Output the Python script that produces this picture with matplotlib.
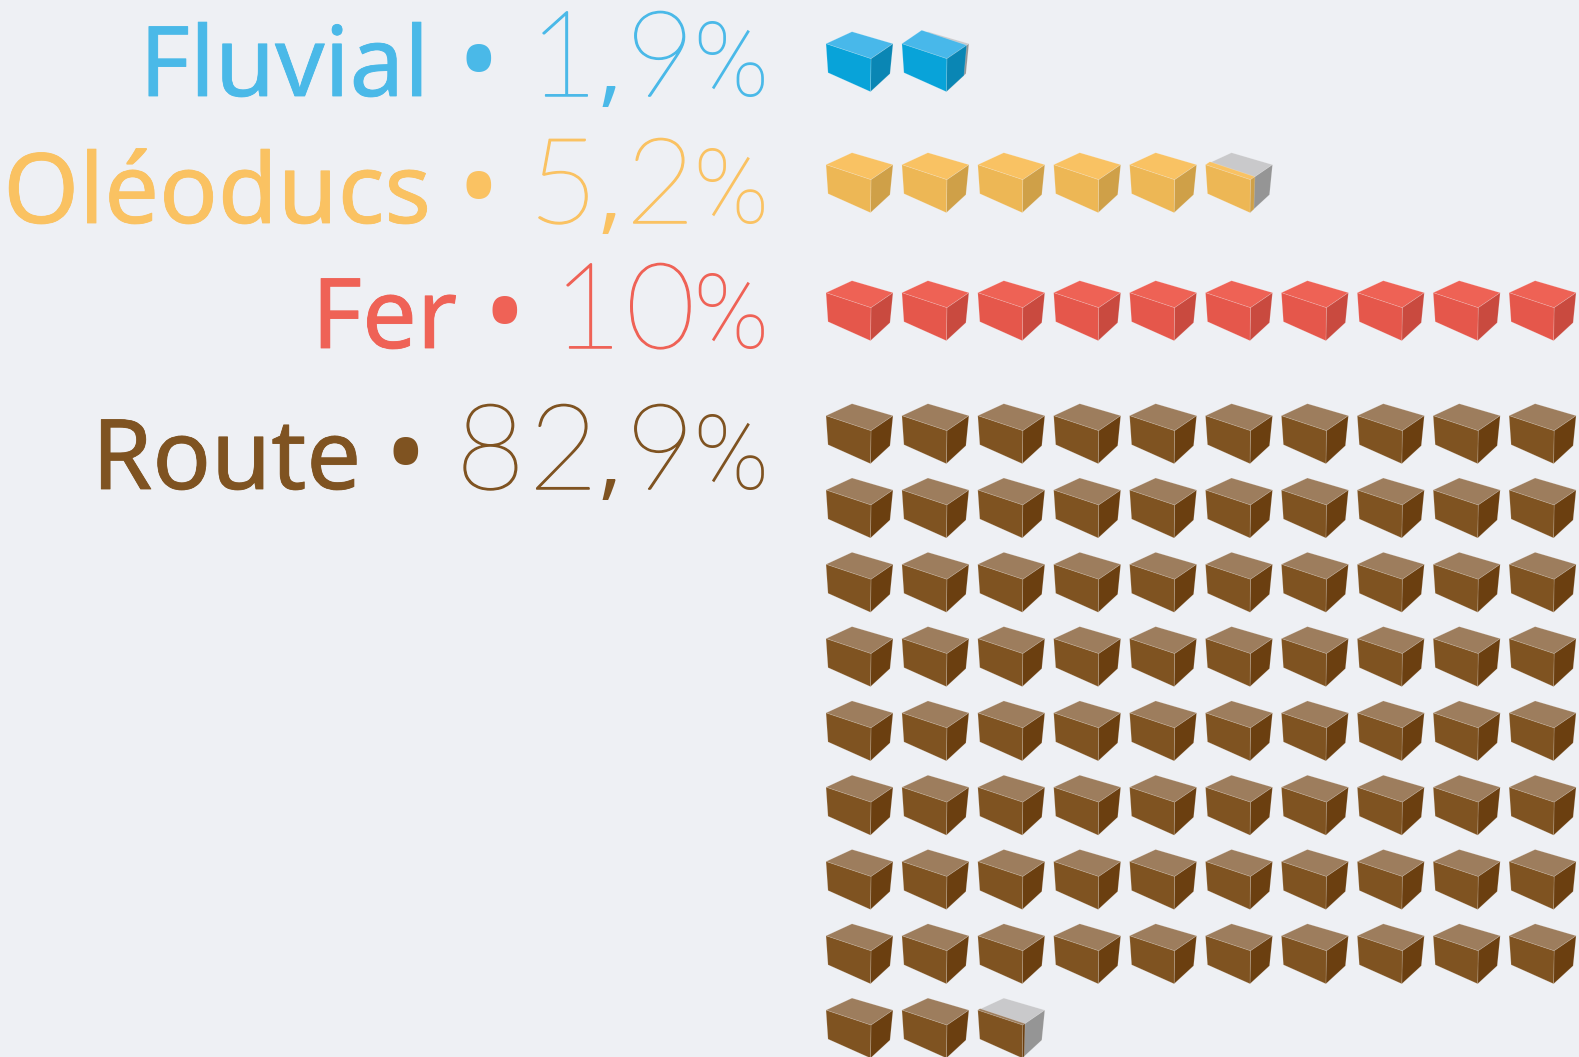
import matplotlib
matplotlib.use("Agg")
import matplotlib.pyplot as plt
import matplotlib.patheffects as pe
from matplotlib.collections import PolyCollection
import numpy as np

# ---- data ----
categories = ["Fluvial", "Oléoducs", "Fer", "Route"]
share_labels = ["1,9", "5,2", "10", "82,9"]
drawn_units = [1.9, 5.2, 10, 82.1]   # cubes as pictured
label_colors = ["#4AB9E8", "#FAC262", "#EF6256", "#7F5321"]
top_colors = ["#48B8EA", "#F9C263", "#EE6255", "#9D7D5D"]
front_colors = ["#08A3D9", "#EDB755", "#E5574B", "#7F5321"]
side_colors = ["#0A86B4", "#CFA048", "#C94A3F", "#6B3F10"]
row_tops = [31.7, 152.7, 280.7, 403.7]
text_base = [96, 223, 348, 489]
label_right = [429, 431, 457, 361]
bullet_x = [478, 478, 504, 405]

BG = "#EEF0F4"
GREY_TOP, GREY_SIDE = "#C9C9CB", "#959595"
FONT = "Noto Sans"
NUM_FONT = "Lato"
PCT_FONT = "Roboto"

# layout (px)
COLS = 10
STEP_X, STEP_Y = 75.9, 74.3
X0 = 826
# glyph slots of the share figures, from the right (px)
LAST_DIGIT_RIGHT, COMMA_X, PREV_DIGIT_RIGHT, FIRST_DIGIT_RIGHT = 695, 610, 598, 525
TENS_RIGHT = 622
# cube shape relative to the back-top corner
LT = np.array([-26, 12.0]); BT = np.array([0, 0.0]); RT = np.array([41, 12.0])
FT = np.array([19, 27.0]); FB = np.array([18.5, 60.0]); LB = np.array([-24, 41.0]); RB = np.array([38, 42.0])
EDGE = 26


def faces(ox, oy):
    o = np.array([ox, oy])
    return [o + p for p in (LT, BT, RT, FT)], [o + p for p in (FT, RT, RB, FB)], [o + p for p in (LT, FT, FB, LB)]


fig = plt.figure(figsize=(15.79, 10.57), dpi=100, facecolor=BG)
ax = fig.add_axes([0, 0, 1, 1])
ax.set_xlim(0, 1579)
ax.set_ylim(1057, 0)
ax.axis("off")

for i, units in enumerate(drawn_units):
    n_full = int(np.floor(units + 1e-9))
    frac = units - n_full
    n = n_full + (1 if frac > 1e-6 else 0)
    polys, cols = [], []
    for k in range(n):
        r, c = divmod(k, COLS)
        ox = X0 + EDGE + c * STEP_X
        oy = row_tops[i] + r * STEP_Y
        top, right, front = faces(ox, oy)
        f = frac if k == n_full else 1.0
        if f < 1:
            polys += [top, right]
            cols += [GREY_TOP, GREY_SIDE]
            o = np.array([ox, oy])
            d_top = (RT - FT) * f
            polys.append([o + LT, o + LT + d_top, o + FT + d_top, o + FT])
            cols.append(top_colors[i])
            d_b = (RB - FB) * f
            polys.append([o + FT, o + FT + d_top, o + FB + d_b, o + FB])
            cols.append(side_colors[i])
            polys.append(front)
            cols.append(front_colors[i])
        else:
            polys += [top, right, front]
            cols += [top_colors[i], side_colors[i], front_colors[i]]
    ax.add_collection(PolyCollection(polys, facecolors=cols, edgecolors=(1, 1, 1, 0.22), linewidths=0.5, closed=True))

for i, cat in enumerate(categories):
    col = label_colors[i]
    y = text_base[i]
    thick = [pe.withStroke(linewidth=0.6, foreground=col)]
    thin = [pe.withStroke(linewidth=1.1, foreground=col)]
    ax.text(label_right[i], y, cat, ha="right", va="baseline", fontsize=70, family=FONT, color=col, path_effects=thick)
    ax.text(bullet_x[i], y - 26, "•", ha="center", va="center", fontsize=80, family=FONT, color=col, weight="bold")
    # share figure, one glyph per slot so the wide spacing of the original is kept
    label = share_labels[i]
    if "," in label:
        head, tail = label.split(",")
        ax.text(COMMA_X, y, ",", ha="center", va="baseline", fontsize=62, family=FONT, color=col)
        ax.text(LAST_DIGIT_RIGHT, y, tail, ha="right", va="baseline", fontsize=86, family=NUM_FONT, weight=100, color=col, path_effects=thin)
        slots = [PREV_DIGIT_RIGHT, FIRST_DIGIT_RIGHT]
        for ch, xr in zip(reversed(head), slots):
            ax.text(xr, y, ch, ha="right", va="baseline", fontsize=86, family=NUM_FONT, weight=100, color=col, path_effects=thin)
    else:
        ax.text(LAST_DIGIT_RIGHT, y, label[1], ha="right", va="baseline", fontsize=86, family=NUM_FONT, weight=100, color=col, path_effects=thin)
        ax.text(TENS_RIGHT, y, label[0], ha="right", va="baseline", fontsize=86, family=NUM_FONT, weight=100, color=col, path_effects=thin)
    ax.text(769, y, "%", ha="right", va="baseline", fontsize=74, family=PCT_FONT, weight=100, color=col)

fig.savefig("out.png", dpi=100, facecolor=BG)
